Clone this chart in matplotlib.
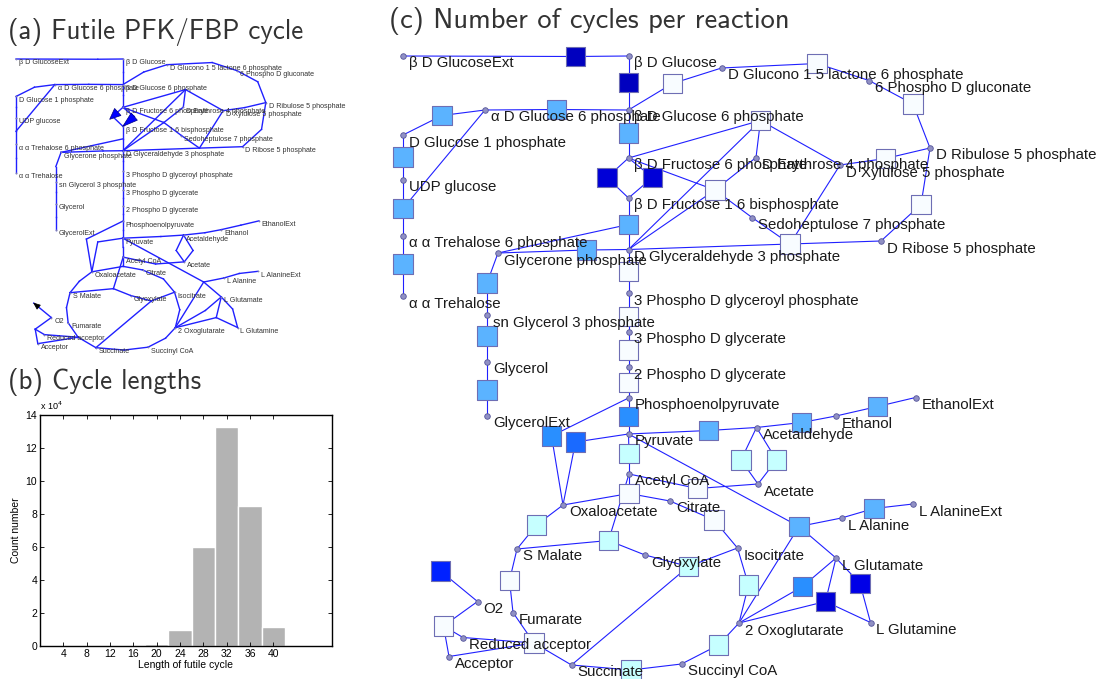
import numpy as np
import matplotlib.pyplot as plt
from matplotlib.colors import LinearSegmentedColormap
from matplotlib.patches import Polygon

W, H = 1100, 679

# --- metabolite nodes (layout coordinates of panel c) ---
met_keys = ['glcext', 'glc', 'gl6p', 'pg6', 'bg6p', 'ag6p', 'g1p', 'udpg', 't6p', 'tre',
            'dhap', 'gly3p', 'glyc', 'glycext', 'f6p', 'f16bp', 'gap', 'bpg', 'pg3', 'pg2',
            'pep', 'pyr', 'e4p', 's7p', 'x5p', 'ru5p', 'r5p', 'accoa', 'cit', 'oaa',
            'mal', 'glx', 'icit', 'akg', 'succoa', 'succ', 'fum', 'red', 'acc', 'o2',
            'acald', 'etoh', 'etohext', 'ac', 'ala', 'alaext', 'glu', 'gln']
met_labels = ['β D GlucoseExt', 'β D Glucose', 'D Glucono 1 5 lactone 6 phosphate',
              '6 Phospho D gluconate', 'β D Glucose 6 phosphate', 'α D Glucose 6 phosphate',
              'D Glucose 1 phosphate', 'UDP glucose', 'α α Trehalose 6 phosphate',
              'α α Trehalose', 'Glycerone phosphate', 'sn Glycerol 3 phosphate', 'Glycerol',
              'GlycerolExt', 'β D Fructose 6 phosphate', 'β D Fructose 1 6 bisphosphate',
              'D Glyceraldehyde 3 phosphate', '3 Phospho D glyceroyl phosphate',
              '3 Phospho D glycerate', '2 Phospho D glycerate', 'Phosphoenolpyruvate',
              'Pyruvate', 'D Erythrose 4 phosphate', 'Sedoheptulose 7 phosphate',
              'D Xylulose 5 phosphate', 'D Ribulose 5 phosphate', 'D Ribose 5 phosphate',
              'Acetyl CoA', 'Citrate', 'Oxaloacetate', 'S Malate', 'Glyoxylate', 'Isocitrate',
              '2 Oxoglutarate', 'Succinyl CoA', 'Succinate', 'Fumarate', 'Reduced acceptor',
              'Acceptor', 'O2', 'Acetaldehyde', 'Ethanol', 'EthanolExt', 'Acetate',
              'L Alanine', 'L AlanineExt', 'L Glutamate', 'L Glutamine']
met_x = [403, 628.5, 721.5, 869, 628.5, 485, 403, 403, 403, 403,
         498, 487, 487, 487, 628.5, 628.5, 628.5, 628.5, 628.5, 628.5,
         628.5, 628.5, 756, 752, 840, 930, 881, 629, 670, 563,
         517, 645, 737.5, 739, 681.5, 571.5, 513, 463, 449, 477.5,
         756.5, 836, 915.5, 758, 841.5, 913, 836, 870.5]
met_y = [56, 56, 68, 80.5, 110, 110, 135, 180, 236, 296,
         253, 315, 362, 416, 158, 198, 249.5, 293, 332, 367,
         398, 434, 157.5, 217.5, 165, 148, 241, 474, 501, 505,
         549, 555, 548, 623, 664, 665, 612.5, 637.5, 656.5, 601.5,
         427.5, 416, 397.5, 484, 518, 504, 558, 622.5]

# --- reactions: position, relative number of cycles, connected metabolites ---
rxn_keys = ['GLCt', 'HK', 'G6PDH', 'PGL', 'GND', 'RPE', 'RPI', 'TKT1', 'TAL', 'TKT2',
            'PGM', 'MUT', 'UGP', 'TPS', 'TPP', 'PGI', 'PFK', 'FBP', 'ALD', 'TPI',
            'GPD', 'GPP', 'GLYt', 'GAPDH', 'PGK', 'GPM', 'ENO', 'PYK', 'PCK', 'PYC',
            'PDH', 'CS', 'ACO', 'IDH', 'AKGDH', 'SCS', 'SDH', 'FUM', 'MDH', 'MLS',
            'ICL', 'RESP', 'O2t', 'PDC', 'ADH', 'ETOHt', 'ALD1', 'ALD2', 'ACS', 'ALT',
            'ALAt', 'GDH', 'GOGAT', 'GS']
rxn_x = [575.5, 628.5, 672.5, 817, 913, 885.5, 921, 790, 715, 760.5,
         442, 556.5, 403, 403, 403, 628.5, 607, 652.5, 628.5, 586.5,
         487, 487, 487, 628.5, 628.5, 628.5, 628.5, 628.5, 551.5, 575.5,
         629, 629, 714, 748.5, 718.5, 631, 534, 509.5, 536.5, 608.5,
         688.5, 443.5, 440.5, 708.5, 801.5, 877.5, 741, 776.5, 697.5, 799,
         874, 802.5, 825.5, 860]
rxn_y = [56.5, 82.5, 83.5, 63.5, 104, 158.5, 204.5, 244, 190, 120.5,
         115.5, 109.5, 157, 208.5, 264, 133, 177.5, 177.5, 224.5, 250,
         283, 336, 390, 271.5, 316.5, 350, 382.5, 416.5, 436, 442,
         453.5, 493.5, 520, 585, 645, 670, 643, 580.5, 525, 540.5,
         566.5, 626, 571, 430.5, 422.5, 406.5, 460, 460, 488.5, 526.5,
         508.5, 586.5, 601.5, 583.5]
rxn_cycles = [1.0, 1.0, 0.0, 0.0, 0.0, 0.0, 0.0, 0.0, 0.0, 0.0,
              0.5, 0.5, 0.5, 0.5, 0.5, 0.5, 0.94, 0.94, 0.5, 0.5,
              0.5, 0.5, 0.5, 0.0, 0.0, 0.0, 0.0, 0.65, 0.65, 0.72,
              0.25, 0.0, 0.0, 0.25, 0.25, 0.25, 0.0, 0.0, 0.25, 0.25,
              0.25, 0.0, 0.83, 0.5, 0.5, 0.5, 0.25, 0.25, 0.0, 0.5,
              0.5, 0.65, 0.94, 0.9]
rxn_links = [['glcext', 'glc'], ['glc', 'bg6p'], ['bg6p', 'gl6p'], ['gl6p', 'pg6'],
             ['pg6', 'ru5p'], ['ru5p', 'x5p'], ['ru5p', 'r5p'], ['x5p', 'r5p', 'gap', 's7p'],
             ['f6p', 's7p', 'e4p', 'gap'], ['f6p', 'gap', 'e4p', 'x5p'],
             ['g1p', 'ag6p'], ['ag6p', 'bg6p'], ['g1p', 'udpg'], ['udpg', 'ag6p', 't6p'],
             ['t6p', 'tre'], ['bg6p', 'f6p'], ['f6p', 'f16bp'], ['f6p', 'f16bp'],
             ['f16bp', 'gap', 'dhap'], ['gap', 'dhap'], ['dhap', 'gly3p'], ['gly3p', 'glyc'],
             ['glyc', 'glycext'], ['gap', 'bpg'], ['bpg', 'pg3'], ['pg3', 'pg2'],
             ['pg2', 'pep'], ['pep', 'pyr'], ['pep', 'oaa'], ['pyr', 'oaa'],
             ['pyr', 'accoa'], ['accoa', 'oaa', 'cit'], ['cit', 'icit'], ['icit', 'akg'],
             ['akg', 'succoa'], ['succoa', 'succ'], ['succ', 'fum', 'red', 'acc'],
             ['fum', 'mal'], ['mal', 'oaa'], ['accoa', 'glx', 'mal'], ['icit', 'glx', 'succ'],
             ['o2', 'red', 'acc'], ['o2'], ['pyr', 'acald'], ['acald', 'etoh'],
             ['etoh', 'etohext'], ['acald', 'ac'], ['acald', 'ac'], ['ac', 'accoa'],
             ['pyr', 'ala', 'glu', 'akg'], ['ala', 'alaext'], ['akg', 'glu'],
             ['akg', 'glu', 'gln'], ['glu', 'gln']]

# --- histogram of cycle lengths ---
cycle_length = [4, 8, 12, 16, 20, 24, 28, 32, 36, 40]
cycle_count = np.array([0, 0, 0, 0, 0.12, 1.0, 5.97, 13.3, 8.5, 1.17]) * 1e4

cmap = LinearSegmentedColormap.from_list('cycles', [
    (0.0, '#f8fcff'), (0.25, '#c6ffff'), (0.5, '#5cb3ff'), (0.65, '#2990ff'),
    (0.72, '#1a6bff'), (0.83, '#0022ff'), (0.9, '#0000e8'), (1.0, '#0000bf')])

label_font = ['Liberation Sans', 'DejaVu Sans']
title_font = ['cmss10', 'DejaVu Sans']
edge_blue = '#2020ff'

pos = dict(zip(met_keys, zip(met_x, met_y)))
rpos = dict(zip(rxn_keys, zip(rxn_x, rxn_y)))


def draw_edges(ax, lw):
    for rx, ry, links in zip(rxn_x, rxn_y, rxn_links):
        for m in links:
            mx, my = pos[m]
            ax.plot([rx, mx], [ry, my], color=edge_blue, lw=lw, zorder=1)


def draw_labels(ax, size, color):
    for lab, x, y in zip(met_labels, met_x, met_y):
        ax.text(x + 6, y + 11.5, lab, fontsize=size, color=color, family=label_font,
                va='baseline', ha='left', zorder=6)


def arrow_head(ax, p0, p1, t0, t1, half, color, ec):
    p0, p1 = np.array(p0), np.array(p1)
    d = p1 - p0
    base = p0 + t0 * d
    tip = p0 + t1 * d
    u = d / np.hypot(*d)
    n = np.array([-u[1], u[0]])
    ax.add_patch(Polygon([tip, base + half * n, base - half * n], closed=True,
                         facecolor=color, edgecolor=ec, lw=0.5, zorder=7))


fig = plt.figure(figsize=(W / 100, H / 100), dpi=100)

# (c) number of cycles per reaction
ax_c = fig.add_axes([380 / W, 0, 720 / W, 639 / H])
ax_c.set_xlim(380, 1100)
ax_c.set_ylim(679, 40)
ax_c.axis('off')
draw_edges(ax_c, 0.8)
ax_c.scatter(rxn_x, rxn_y, c=rxn_cycles, cmap=cmap, vmin=0, vmax=1, marker='s', s=190,
             edgecolors='#6e6eb4', linewidths=0.8, zorder=3)
ax_c.plot(met_x, met_y, 'o', ms=4, mfc='#9090c4', mec='#55559a', mew=0.6, ls='none', zorder=4)
draw_labels(ax_c, 10.8, '#1a1a1a')

# (a) futile PFK/FBP cycle, same layout scaled down
sc = 0.474
ax_a = fig.add_axes([(16 + sc * (380 - 403)) / W, 1 - (59 + sc * (679 - 56)) / H,
                     sc * 720 / W, sc * 639 / H])
ax_a.set_xlim(380, 1100)
ax_a.set_ylim(679, 40)
ax_a.axis('off')
draw_edges(ax_a, 1.0)
ax_a.plot(met_x, met_y, 'o', ms=1.3, mfc='#8080b0', mec='none', ls='none', zorder=2)
draw_labels(ax_a, 5.1, '#333333')
arrow_head(ax_a, pos['f6p'], rpos['PFK'], 0.5, 1.3, 10, '#0000ff', '#000080')
arrow_head(ax_a, rpos['FBP'], pos['f16bp'], 0.0, 1.0, 10, '#0000ff', '#000080')
arrow_head(ax_a, pos['o2'], rpos['O2t'], 0.72, 1.0, 5.5, '#000000', '#000000')

# (b) cycle lengths histogram
ax_b = fig.add_axes([40 / W, 33 / H, 291.7 / W, 231 / H])
ax_b.bar(cycle_length, cycle_count / 1e4, width=4, color='#b3b3b3', edgecolor='white', lw=1)
ax_b.set_xlim(0, 50)
ax_b.set_ylim(0, 14)
ax_b.set_xticks(cycle_length)
ax_b.set_yticks(range(0, 15, 2))
ax_b.tick_params(direction='in', top=True, right=True, length=3, width=0.6,
                 labelsize=7.5, pad=2)
for lab in ax_b.get_xticklabels() + ax_b.get_yticklabels():
    lab.set_family(label_font)
for sp in ax_b.spines.values():
    sp.set_linewidth(1.0)
ax_b.set_xlabel('Length of futile cycle', fontsize=7.5, family=label_font, labelpad=1)
ax_b.set_ylabel('Count number', fontsize=7.5, family=label_font, labelpad=3)
ax_b.text(0, 1.012, 'x 10$^4$', transform=ax_b.transAxes, fontsize=6.5,
          family=label_font, va='bottom', ha='left')

fig.text(8 / W, 1 - 39.5 / H, '(a) Futile PFK/FBP cycle', fontsize=19.5, family=title_font,
         color='#333333', va='baseline')
fig.text(8 / W, 1 - 389.5 / H, '(b) Cycle lengths', fontsize=19.5, family=title_font,
         color='#333333', va='baseline')
fig.text(389 / W, 1 - 28 / H, '(c) Number of cycles per reaction', fontsize=20.5,
         family=title_font, color='#333333', va='baseline')

fig.savefig('out.png', dpi=100)
